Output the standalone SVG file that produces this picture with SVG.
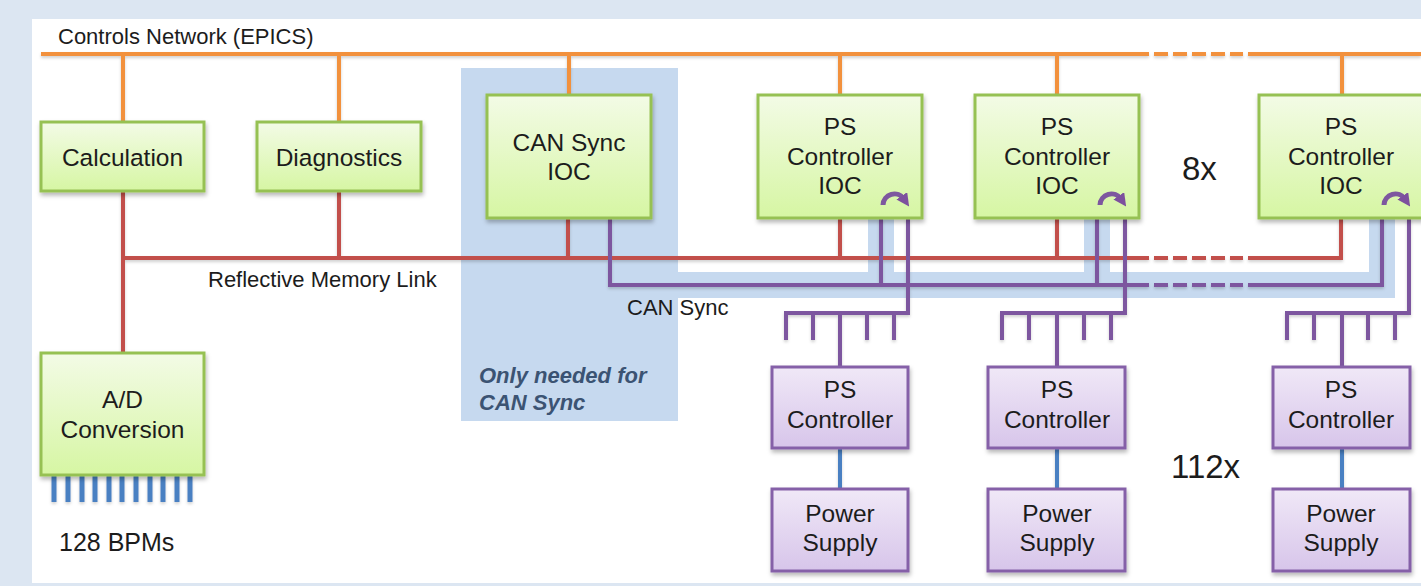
<svg xmlns="http://www.w3.org/2000/svg" width="1421" height="586" viewBox="0 0 1421 586">
<defs>
<linearGradient id="gG" x1="0" y1="0" x2="0" y2="1"><stop offset="0" stop-color="#f3fbe6"/><stop offset="1" stop-color="#d6f6a3"/></linearGradient>
<linearGradient id="gP" x1="0" y1="0" x2="0" y2="1"><stop offset="0" stop-color="#f0e8f7"/><stop offset="1" stop-color="#d7c5ea"/></linearGradient>
<filter id="sh" x="-10%" y="-10%" width="130%" height="130%"><feDropShadow dx="1" dy="3" stdDeviation="2" flood-color="#000" flood-opacity="0.28"/></filter>
<filter id="shl" x="-5%" y="-5%" width="110%" height="110%"><feDropShadow dx="0" dy="2" stdDeviation="1.5" flood-color="#000" flood-opacity="0.18"/></filter>
<marker id="ah" viewBox="0 0 10 10" refX="3" refY="5" markerWidth="2.6" markerHeight="2.6" orient="auto" markerUnits="strokeWidth"><path d="M0,0 L10,5 L0,10 z" fill="#7d509e"/></marker>
<style>
.t{font-family:"Liberation Sans",Arial,sans-serif;fill:#1c1c1c}
.b{font-size:24.5px;text-anchor:middle}
.s{font-size:22px}
.g{fill:url(#gG);stroke:#96c153;stroke-width:3;filter:url(#sh)}
.p{fill:url(#gP);stroke:#8560a8;stroke-width:3;filter:url(#sh)}
.or{stroke:#f2913c;stroke-width:4;fill:none}
.rd{stroke:#c24f4c;stroke-width:4;fill:none}
.pu{stroke:#7d579f;stroke-width:4;fill:none}
.arc{stroke:#7d579f;stroke-width:5;fill:none}
.bl{stroke:#4a80c2;stroke-width:4;fill:none}
.bpm{stroke:#4a80c2;stroke-width:5;fill:none}
.d{stroke-dasharray:14 5}
.band{stroke:#c6d9ef;stroke-width:26;fill:none;stroke-linejoin:miter}
</style>
</defs>
<rect x="0" y="0" width="1421" height="586" fill="#dce6f2"/>
<rect x="32" y="19" width="1389" height="564" fill="#ffffff"/>
<rect x="461" y="68" width="217" height="353" fill="#c6d9ef"/>
<path class="band" d="M660 285 H1382 V218 M881 285 V218 M1097 285 V218"/>

<g id="connectors" filter="url(#shl)">
<path class="or" d="M41 54 H1149 M1248 54 H1421"/>
<path class="or d" d="M1154 54 H1243"/>
<path class="or" d="M123 54 V122 M339 54 V122 M569 54 V95 M840 54 V95 M1057 54 V95 M1342 54 V95"/>
<path class="rd" d="M123 191 V353 M123 258 H1149 M1248 258 H1341 V218 M339 191 V258 M568 218 V258 M840 218 V258 M1057 218 V258"/>
<path class="rd d" d="M1154 258 H1243"/>
<path class="pu" d="M610 218 V285 H1149 M1248 285 H1382 V218 M881 218 V285 M1097 218 V285"/>
<path class="pu d" d="M1154 285 H1243"/>
<path class="pu" d="M908 218 V313 H786 V340 M813 313 V340 M840 313 V367 M867 313 V340 M894 313 V340"/>
<path class="pu" d="M1125 218 V313 H1002 V340 M1029 313 V340 M1057 313 V367 M1084 313 V340 M1111 313 V340"/>
<path class="pu" d="M1409 218 V313 H1287 V340 M1314 313 V340 M1342 313 V367 M1368 313 V340 M1395 313 V340"/>
<path class="bl" d="M840 448 V489 M1057 448 V489 M1342 448 V489"/>
<path class="bpm" d="M54 476 V502 M68 476 V502 M82 476 V502 M95 476 V502 M109 476 V502 M122 476 V502 M136 476 V502 M150 476 V502 M163 476 V502 M177 476 V502 M190 476 V502"/>
</g>

<text class="t s" x="58" y="44">Controls Network (EPICS)</text>

<g id="calculation"><rect class="g" x="41" y="122" width="163" height="69"/><text class="t b" x="122.5" y="166">Calculation</text></g>
<g id="diagnostics"><rect class="g" x="257" y="122" width="164" height="69"/><text class="t b" x="339" y="166">Diagnostics</text></g>
<g id="can-sync-ioc"><rect class="g" x="487" y="95" width="164" height="123"/><text class="t b" x="569" y="151">CAN Sync</text><text class="t b" x="569" y="180">IOC</text></g>
<g id="ps-ioc-1"><rect class="g" x="758" y="95" width="164" height="123"/><text class="t b" x="840" y="135">PS</text><text class="t b" x="840" y="165">Controller</text><text class="t b" x="840" y="194">IOC</text><path class="arc" d="M883 205 A11.5 11.5 0 0 1 904 199" marker-end="url(#ah)"/></g>
<g id="ps-ioc-2"><rect class="g" x="975" y="95" width="164" height="123"/><text class="t b" x="1057" y="135">PS</text><text class="t b" x="1057" y="165">Controller</text><text class="t b" x="1057" y="194">IOC</text><path class="arc" d="M1100 205 A11.5 11.5 0 0 1 1121 199" marker-end="url(#ah)"/></g>
<g id="ps-ioc-3"><rect class="g" x="1259" y="95" width="164" height="123"/><text class="t b" x="1341" y="135">PS</text><text class="t b" x="1341" y="165">Controller</text><text class="t b" x="1341" y="194">IOC</text><path class="arc" d="M1384 205 A11.5 11.5 0 0 1 1405 199" marker-end="url(#ah)"/></g>
<text class="t" x="1182" y="180" style="font-size:33px">8x</text>

<text class="t s" x="208" y="287">Reflective Memory Link</text>
<text class="t s" x="627" y="315">CAN Sync</text>
<text class="t s" x="479" y="383" style="font-weight:bold;font-style:italic;fill:#3b5373">Only needed for</text>
<text class="t s" x="479" y="410" style="font-weight:bold;font-style:italic;fill:#3b5373">CAN Sync</text>

<g id="ad-conversion"><rect class="g" x="41" y="353" width="163" height="122"/><text class="t b" x="122.5" y="408">A/D</text><text class="t b" x="122.5" y="438">Conversion</text></g>
<text class="t" x="59" y="551" style="font-size:25px">128 BPMs</text>

<g id="ps-controller-1"><rect class="p" x="772" y="367" width="136" height="81"/><text class="t b" x="840" y="398">PS</text><text class="t b" x="840" y="428">Controller</text></g>
<g id="power-supply-1"><rect class="p" x="772" y="489" width="136" height="82"/><text class="t b" x="840" y="522">Power</text><text class="t b" x="840" y="551">Supply</text></g>
<g id="ps-controller-2"><rect class="p" x="988" y="367" width="137" height="81"/><text class="t b" x="1057" y="398">PS</text><text class="t b" x="1057" y="428">Controller</text></g>
<g id="power-supply-2"><rect class="p" x="988" y="489" width="137" height="82"/><text class="t b" x="1057" y="522">Power</text><text class="t b" x="1057" y="551">Supply</text></g>
<g id="ps-controller-3"><rect class="p" x="1273" y="367" width="137" height="81"/><text class="t b" x="1341" y="398">PS</text><text class="t b" x="1341" y="428">Controller</text></g>
<g id="power-supply-3"><rect class="p" x="1273" y="489" width="137" height="82"/><text class="t b" x="1341" y="522">Power</text><text class="t b" x="1341" y="551">Supply</text></g>
<text class="t" x="1171" y="478" style="font-size:33px">112x</text>
</svg>
